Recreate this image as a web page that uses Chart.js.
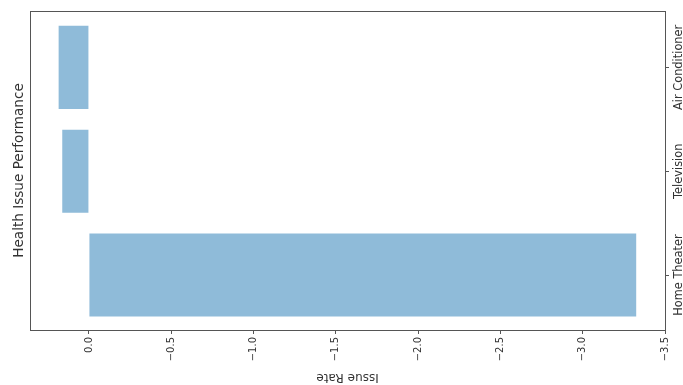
<!DOCTYPE html>
<html lang="en">
  <head>
    <meta charset="UTF-8" />
    <title>Health Issue Performance</title>
    <style>
      html, body { margin: 0; padding: 0; background: #fff; }
      #wrap { width: 683px; height: 385px; }
    </style>
  </head>
  <body>
    <div id="wrap"><canvas id="chart1"></canvas></div>

    <script src="https://cdn.jsdelivr.net/npm/chart.js"></script>
    <script>
      // data (top to bottom)
      const categories = ["Air Conditioner", "Television", "Home Theater"];
      const issueRate = [0.184, 0.162, -3.325];
      const xTickValues = [0, -0.5, -1, -1.5, -2, -2.5, -3, -3.5];
      const chartTitle = "Health Issue Performance";
      const xTitle = "Issue Rate";

      const textColor = "#333";
      const lineColor = "#555";
      const font = "'DejaVu Sans', sans-serif";

      // frame, title, category labels on the right and the upside-down axis title
      const decorations = {
        id: "decorations",
        afterDraw(chart) {
          const ctx = chart.ctx;
          const a = chart.chartArea;
          ctx.save();
          ctx.strokeStyle = lineColor;
          ctx.lineWidth = 1;
          ctx.strokeRect(Math.round(a.left) + 0.5, Math.round(a.top) + 0.5,
            Math.round(a.right - a.left), Math.round(a.bottom - a.top));

          ctx.fillStyle = textColor;
          ctx.textAlign = "center";
          ctx.textBaseline = "middle";

          // title on the left
          ctx.save();
          ctx.font = "13.6px " + font;
          ctx.translate(19, (a.top + a.bottom) / 2);
          ctx.rotate(-Math.PI / 2);
          ctx.fillText(chartTitle, 0, 0);
          ctx.restore();

          // y labels, rotated, centred on each tick
          const y = chart.scales.y;
          ctx.font = "11.4px " + font;
          y.ticks.forEach(t => {
            const py = y.getPixelForValue(t.value);
            ctx.save();
            ctx.translate(a.right + 14, py);
            ctx.rotate(-Math.PI / 2);
            ctx.fillText(categories[t.value], 0, 0);
            ctx.restore();
          });

          // "Issue Rate" upside down
          ctx.save();
          ctx.font = "12px " + font;
          ctx.translate((a.left + a.right) / 2, 377);
          ctx.rotate(Math.PI);
          ctx.fillText(xTitle, 0, 0);
          ctx.restore();
          ctx.restore();
        }
      };

      const ctx = document.getElementById("chart1").getContext("2d");
      new Chart(ctx, {
        type: "bar",
        data: {
          datasets: [{
            label: xTitle,
            data: issueRate.map((v, i) => ({ x: v, y: i })),
            backgroundColor: "rgba(31,119,180,0.5)",
            borderWidth: 0,
            barPercentage: 0.8,
            categoryPercentage: 1.0
          }]
        },
        options: {
          indexAxis: "y",
          responsive: true,
          maintainAspectRatio: false,
          animation: false,
          layout: { padding: { top: 11, right: 0, bottom: 0, left: 30 } },
          plugins: {
            legend: { display: false },
            tooltip: { enabled: false }
          },
          scales: {
            x: {
              type: "linear",
              reverse: true,
              min: -3.5,
              max: 0.358,
              afterBuildTicks(scale) {
                scale.ticks = xTickValues.map(v => ({ value: v }));
              },
              afterFit(scale) { scale.height = 55; },
              border: { display: false },
              grid: { drawOnChartArea: false, drawTicks: true, tickLength: 4, color: lineColor },
              ticks: {
                minRotation: 90,
                maxRotation: 90,
                padding: 3,
                color: textColor,
                font: { family: font, size: 10 },
                callback: v => (v === 0 ? "0.0" : (v < 0 ? "\u2212" : "") + Math.abs(v).toFixed(1))
              }
            },
            y: {
              type: "linear",
              position: "right",
              reverse: true,
              min: -0.543,
              max: 2.529,
              offset: false,
              afterBuildTicks(scale) {
                scale.ticks = categories.map((c, i) => ({ value: i }));
              },
              afterFit(scale) { scale.width = 18; },
              border: { display: false },
              grid: { offset: false, drawOnChartArea: false, drawTicks: true, tickLength: 4, color: lineColor },
              ticks: { display: false }
            }
          }
        },
        plugins: [decorations]
      });
    </script>
  </body>
</html>
